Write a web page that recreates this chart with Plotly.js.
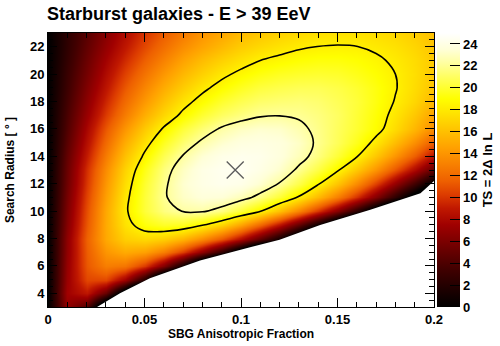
<!DOCTYPE html>
<html>
<head>
<meta charset="utf-8">
<script src="https://cdn.plot.ly/plotly-3.0.1.min.js"></script>
<style>
  html, body { margin: 0; padding: 0; background: #fff; }
  #chart { width: 500px; height: 346px; }
</style>
</head>
<body>
<div id="chart"></div>
<script>
// Scan grid: SBG anisotropic fraction (columns) x search radius in degrees (rows)
const fraction = [0, 0.01, 0.02, 0.03, 0.04, 0.05, 0.06, 0.07, 0.08, 0.09, 0.10,
                  0.11, 0.12, 0.13, 0.14, 0.15, 0.16, 0.17, 0.18, 0.19, 0.20];
const radius = [3, 4, 5, 6, 7, 8, 9, 10, 11, 12, 13, 14, 15, 16, 17, 18, 19, 20, 21, 22, 23];

// TS = 2 delta lnL for each (radius, fraction); negative values lie in the excluded region
const tsGrid = [
  [0, 6.9, 4.2, -4.9, -12, -12, -12, -12, -12, -12, -12, -12, -12, -12, -12, -12, -12, -12, -12, -12, -12],
  [0, 7.5, 8.9, 5.1, -2.7, -12, -12, -12, -12, -12, -12, -12, -12, -12, -12, -12, -12, -12, -12, -12, -12],
  [0, 7.2, 10.6, 10.6, 7.4, 1.5, -6.8, -12, -12, -12, -12, -12, -12, -12, -12, -12, -12, -12, -12, -12, -12],
  [0, 7.0, 11.2, 12.9, 12.5, 10.1, 6.1, 0.6, -6.2, -12, -12, -12, -12, -12, -12, -12, -12, -12, -12, -12, -12],
  [0, 6.8, 11.4, 14.0, 15.0, 14.5, 12.9, 10.3, 6.8, 2.5, -2.6, -8.5, -12, -12, -12, -12, -12, -12, -12, -12, -12],
  [0, 6.7, 11.6, 14.9, 16.7, 17.2, 16.7, 15.5, 13.6, 11.2, 8.3, 4.8, 0.9, -3.6, -8.6, -12, -12, -12, -12, -12, -12],
  [0, 6.3, 11.2, 15.0, 17.6, 19.2, 19.8, 19.6, 18.5, 16.9, 14.6, 11.8, 8.5, 4.7, 0.5, -4.3, -9.5, -12, -12, -12, -12],
  [0, 6.0, 10.9, 14.9, 18.0, 20.2, 21.6, 22.3, 22.4, 21.6, 20.2, 18.4, 16.0, 13.2, 10.0, 6.3, 2.2, -2.2, -7.4, -12, -12],
  [0, 5.7, 10.5, 14.5, 17.8, 20.2, 22.0, 23.1, 23.6, 23.5, 22.8, 21.7, 20.1, 18.1, 15.7, 12.9, 9.8, 6.3, 2.5, -1.7, -6.2],
  [0, 5.4, 10.1, 14.1, 17.4, 20.0, 21.9, 23.3, 24.0, 24.3, 24.1, 23.3, 22.1, 20.5, 18.5, 16.1, 13.4, 10.3, 6.9, 3.2, -0.8],
  [0, 5.2, 9.8, 13.6, 16.9, 19.5, 21.6, 23.0, 24.0, 24.4, 24.5, 24.0, 23.2, 21.9, 20.4, 18.5, 16.3, 13.9, 11.1, 8.0, 4.7],
  [0, 4.9, 9.1, 12.8, 16.0, 18.6, 20.7, 22.3, 23.4, 24.1, 24.3, 24.2, 23.7, 22.8, 21.6, 20.1, 18.4, 16.3, 14.0, 11.4, 8.5],
  [0, 4.5, 8.5, 12.0, 15.1, 17.6, 19.7, 21.3, 22.5, 23.3, 23.8, 23.9, 23.7, 23.1, 21.9, 20.8, 19.5, 17.8, 15.8, 13.6, 11.2],
  [0, 4.1, 7.9, 11.2, 14.0, 16.5, 18.5, 20.2, 21.4, 22.4, 23.0, 23.3, 23.2, 22.6, 21.8, 20.9, 20.0, 18.9, 17.3, 15.5, 13.5],
  [0, 3.8, 7.2, 10.2, 12.8, 15.2, 17.1, 18.7, 20.0, 21.0, 21.6, 22.05, 22.15, 22.0, 21.6, 21.0, 20.1, 19.1, 17.8, 16.3, 14.6],
  [0, 3.5, 6.7, 9.5, 12.0, 14.2, 16.1, 17.7, 18.9, 20.0, 20.7, 21.2, 21.4, 21.5, 21.3, 20.8, 20.2, 19.3, 18.2, 17.0, 15.5],
  [0, 3.2, 6.2, 8.8, 11.2, 13.3, 15.1, 16.6, 17.9, 18.9, 19.7, 20.3, 20.6, 20.8, 20.8, 20.5, 20.0, 19.3, 18.4, 17.3, 16.1],
  [0, 3.0, 5.7, 8.2, 10.4, 12.4, 14.1, 15.6, 16.8, 17.9, 18.7, 19.3, 19.7, 19.9, 20.0, 19.9, 19.5, 19.0, 18.3, 17.4, 16.4],
  [0, 2.7, 5.3, 7.6, 9.6, 11.5, 13.1, 14.6, 15.8, 16.8, 17.6, 18.3, 18.7, 19.0, 19.2, 19.2, 19.0, 18.6, 18.0, 17.3, 16.4],
  [0, 2.5, 4.9, 7.0, 8.9, 10.7, 12.2, 13.6, 14.7, 15.7, 16.6, 17.2, 17.7, 18.1, 18.32, 18.4, 18.33, 18.0, 17.6, 17.0, 16.2],
  [0, 2.4, 4.5, 6.5, 8.3, 10.0, 11.4, 12.7, 13.9, 14.8, 15.7, 16.3, 16.8, 17.2, 17.5, 17.6, 17.6, 17.4, 17.1, 16.6, 16.0]
];

// Edge of the excluded (TS < 0) region
const boundaryFrac   = [0.0254, 0.0373, 0.0528, 0.0788, 0.1047, 0.120, 0.141, 0.167, 0.193, 0.200];
const boundaryRadius = [3.0,    4.0,    5.1,    6.4,    7.37,   7.9,   8.98,  10.1,  11.3,  12.2];

// Confidence contours (TS_max - 6.2 and TS_max - 2.3) and best-fit point
const contourLevels = [18.3, 22.2];
const bestFitFrac = [0.097];
const bestFitRadius = [13.0];

const colorbarTicks = [0, 2, 4, 6, 8, 10, 12, 14, 16, 18, 20, 22, 24];
const xRange = [0, 0.2];
const yRange = [3, 23];
const zRange = [0, 25];

const heatScale = [
  [0.00, '#000000'],
  [0.07, '#200000'],
  [0.14, '#420000'],
  [0.22, '#700000'],
  [0.30, '#a00000'],
  [0.36, '#c01800'],
  [0.41, '#dd3c00'],
  [0.46, '#ee6000'],
  [0.52, '#f88000'],
  [0.58, '#ffa000'],
  [0.64, '#ffc000'],
  [0.70, '#ffe000'],
  [0.76, '#ffff00'],
  [0.84, '#ffff60'],
  [0.89, '#ffffa0'],
  [0.94, '#ffffd8'],
  [1.00, '#ffffff']
];

const boldFont = (size) => ({ family: 'Liberation Sans, Arial, sans-serif', size: size, weight: 'bold', color: '#000' });

const heat = {
  type: 'heatmap',
  x: fraction, y: radius, z: tsGrid,
  zsmooth: 'best',
  zmin: zRange[0], zmax: zRange[1],
  colorscale: heatScale,
  hoverinfo: 'skip',
  colorbar: {
    x: 1.008, xanchor: 'left', xref: 'paper',
    y: 0.5, yanchor: 'middle', len: 1, lenmode: 'fraction',
    thickness: 23, xpad: 0, ypad: 0, outlinewidth: 0,
    ticks: 'inside', ticklen: 10, tickwidth: 1, tickcolor: 'black',
    tickmode: 'array', tickvals: colorbarTicks,
    tickfont: boldFont(13),
    title: { text: 'TS = 2\u0394 ln L', side: 'right', font: boldFont(13) }
  }
};

// White fill over the excluded region, closed through the lower-right corner
const excluded = {
  type: 'scatter', mode: 'lines',
  x: boundaryFrac.concat([xRange[1] + 0.01, xRange[1] + 0.01, boundaryFrac[0]]),
  y: boundaryRadius.concat([boundaryRadius[boundaryRadius.length - 1], yRange[0] - 0.5, yRange[0] - 0.5]),
  fill: 'toself', fillcolor: '#ffffff',
  line: { width: 0, color: 'rgba(0,0,0,0)' },
  hoverinfo: 'skip', showlegend: false
};

const contours = {
  type: 'contour',
  x: fraction, y: radius, z: tsGrid,
  autocontour: false,
  contours: {
    start: contourLevels[0],
    end: contourLevels[1],
    size: contourLevels[1] - contourLevels[0],
    coloring: 'none'
  },
  line: { color: '#000', width: 1.6, smoothing: 1 },
  showscale: false, hoverinfo: 'skip'
};

const bestFit = {
  type: 'scatter', mode: 'markers',
  x: bestFitFrac, y: bestFitRadius,
  marker: { symbol: 'x-thin', size: 17, color: '#5a5a5a', line: { width: 1.3, color: '#5a5a5a' } },
  hoverinfo: 'skip', showlegend: false
};

const layout = {
  width: 500, height: 346,
  margin: { l: 48, r: 66, t: 33, b: 39, autoexpand: false },
  paper_bgcolor: '#ffffff', plot_bgcolor: '#ffffff',
  font: { family: 'Liberation Sans, Arial, sans-serif', color: '#000' },
  showlegend: false,
  title: {
    text: 'Starburst galaxies - E > 39 EeV',
    font: boldFont(18),
    xref: 'container', x: 47 / 500, xanchor: 'left',
    yref: 'container', y: 1 - 14 / 346, yanchor: 'middle'
  },
  xaxis: {
    range: xRange, tick0: 0, dtick: 0.05,
    ticks: 'inside', ticklen: 9, tickwidth: 1, tickcolor: 'black',
    minor: { dtick: 0.01, ticks: 'inside', ticklen: 5, tickwidth: 1, tickcolor: 'black' },
    showline: true, linecolor: 'black', linewidth: 1, mirror: 'allticks',
    showgrid: false, zeroline: false,
    tickfont: boldFont(13),
    title: { text: 'SBG Anisotropic Fraction', font: boldFont(12), standoff: 3 }
  },
  yaxis: {
    range: yRange, tick0: 0, dtick: 2,
    ticks: 'inside', ticklen: 9, tickwidth: 1, tickcolor: 'black',
    minor: { dtick: 0.5, ticks: 'inside', ticklen: 5, tickwidth: 1, tickcolor: 'black' },
    showline: true, linecolor: 'black', linewidth: 1, mirror: 'allticks',
    showgrid: false, zeroline: false,
    tickfont: boldFont(13),
    title: { text: 'Search Radius [ \u00b0 ]', font: boldFont(12) }
  }
};

Plotly.newPlot('chart', [heat, excluded, contours, bestFit], layout, { displayModeBar: false });
</script>
</body>
</html>
